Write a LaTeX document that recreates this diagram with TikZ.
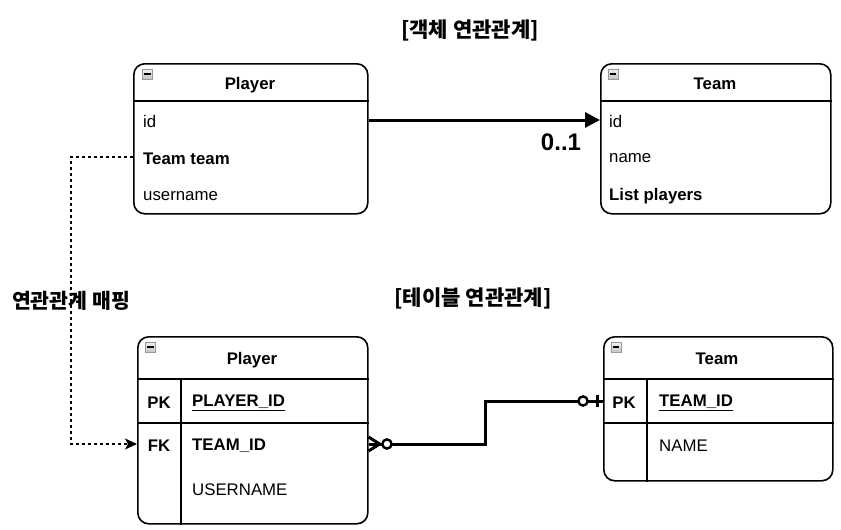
\documentclass[tikz,border=0pt]{standalone}
\usepackage{fontspec}
\setmainfont{Liberation Sans}
\newfontfamily\kr{Noto Sans CJK KR}
\usetikzlibrary{arrows.meta,calc}
\begin{document}
\begin{tikzpicture}[x=1pt,y=-1pt,
  box/.style={draw, line width=1.6pt, rounded corners=11pt, inner sep=0pt, anchor=north west},
  sep/.style={line width=1.6pt},
  hdr/.style={font=\fontsize{16.8}{19}\selectfont\bfseries, inner sep=0pt},
  item/.style={font=\fontsize{16.8}{19}\selectfont, anchor=west, inner sep=0pt},
  bitem/.style={item, font=\fontsize{16.8}{19}\selectfont\bfseries},
  title/.style={font=\kr\fontsize{21}{24}\selectfont\bfseries, inner sep=0pt},
  icon/.style={draw=gray!80, line width=0.8pt, top color=gray!10, bottom color=gray!45, minimum size=10pt, inner sep=0pt, anchor=north west},
  rel/.style={line width=3pt},
]
\useasboundingbox[fill=white] (0,0) rectangle (841,530);

% ---------- titles
\node[title] (t1title) at (470,30) {[객체 연관관계]};
\node[title] (t2title) at (473,298) {[테이블 연관관계]};

% ---------- top Player
\node[box, minimum width=234pt, minimum height=150pt] (op) at (133,63) {};
\draw[sep] ($(op.north west)+(0,38)$) -- ($(op.north east)+(0,38)$);
\node[icon] (opicon) at (142,68.5) {};
\draw[line width=1.3pt] ($(opicon.west)+(2,0)$) -- ($(opicon.east)+(-2,0)$);
\node[hdr] (ophdr) at (250,85) {Player};
\node[item] (opid) at (143,121.5) {id};
\node[bitem] (opteam) at (143,158.5) {Team team};
\node[item] (opuser) at (143,196.5) {username};

% ---------- top Team
\node[box, minimum width=230pt, minimum height=150pt] (ot) at (600,63) {};
\draw[sep] ($(ot.north west)+(0,38)$) -- ($(ot.north east)+(0,38)$);
\node[icon] (oticon) at (607.5,68.5) {};
\draw[line width=1.3pt] ($(oticon.west)+(2,0)$) -- ($(oticon.east)+(-2,0)$);
\node[hdr] (othdr) at (715,83.5) {Team};
\node[item] (otid) at (609,121.5) {id};
\node[item] (otname) at (609,158.5) {name};
\node[bitem] (otlist) at (609,196.5) {List players};

% ---------- object association
\coordinate (oa1) at ($(op.north east)+(0,57)$);
\coordinate (oa2) at ($(ot.north west)+(0,57)$);
\draw[rel, -{Triangle[length=15pt,width=15pt]}] (oa1) -- (oa2);
\node[font=\fontsize{24}{28}\selectfont\bfseries, inner sep=0pt] (mult) at (561,142.5) {0..1};

% ---------- bottom Player table
\node[box, minimum width=230pt, minimum height=187pt] (tp) at (137,336) {};
\draw[sep] ($(tp.north west)+(0,43)$) -- ($(tp.north east)+(0,43)$);
\draw[sep] ($(tp.north west)+(0,87)$) -- ($(tp.north east)+(0,87)$);
\draw[sep] ($(tp.north west)+(44,43)$) -- ($(tp.south west)+(44,0)$);
\node[icon] (tpicon) at (145,341.5) {};
\draw[line width=1.3pt] ($(tpicon.west)+(2,0)$) -- ($(tpicon.east)+(-2,0)$);
\node[hdr] (tphdr) at (252,360) {Player};
\node[hdr] (tppk) at (159,402.5) {PK};
\node[bitem] (tppid) at (192,402.5) {\underline{PLAYER\_ID}};
\node[hdr] (tpfk) at (159,445.5) {FK};
\node[bitem] (tptid) at (192,445.5) {TEAM\_ID};
\node[item] (tpuser) at (192,489.5) {USERNAME};

% ---------- bottom Team table
\node[box, minimum width=229pt, minimum height=144pt] (tt) at (603,336) {};
\draw[sep] ($(tt.north west)+(0,43)$) -- ($(tt.north east)+(0,43)$);
\draw[sep] ($(tt.north west)+(0,87)$) -- ($(tt.north east)+(0,87)$);
\draw[sep] ($(tt.north west)+(44,43)$) -- ($(tt.south west)+(44,0)$);
\node[icon] (tticon) at (610.5,341.5) {};
\draw[line width=1.3pt] ($(tticon.west)+(2,0)$) -- ($(tticon.east)+(-2,0)$);
\node[hdr] (tthdr) at (717,358.5) {Team};
\node[hdr] (ttpk) at (624,402.5) {PK};
\node[bitem] (tttid) at (659,402.5) {\underline{TEAM\_ID}};
\node[item] (ttname) at (659,445.5) {NAME};

% ---------- table relation (zero-or-many to zero-or-one)
\coordinate (ra) at ($(tp.north east)+(0,108)$);
\coordinate (rb) at ($(tt.north west)+(0,65)$);
\coordinate (rc) at (392,444);
\coordinate (rd) at (578,401);
\draw[rel, line join=miter] (rc) -| (485,401) -- (rd);
\draw[rel] ($(ra)+(0,-7)$) -- ($(ra)+(11,0)$) -- ($(ra)+(0,7)$);
\draw[rel] (ra) -- ($(ra)+(15,0)$);
\draw[line width=2.4pt, fill=white] (387,444) circle (4.6pt);
\draw[rel] ($(rb)+(-15,0)$) -- (rb);
\draw[rel] ($(rb)+(-6,-6)$) -- ($(rb)+(-6,6)$);
\draw[line width=2.4pt, fill=white] (583,401) circle (4.6pt);

% ---------- mapping (dashed)
\coordinate (m1) at ($(op.north west)+(0,94)$);
\coordinate (m2) at ($(tp.north west)+(0,108)$);
\draw[line width=1.4pt, dash pattern=on 3pt off 3pt, -{Stealth[length=12pt,width=11pt,inset=3pt]}]
  (m1) -- (71,157) -- (71,444) -- (m2);
\node[font=\kr\fontsize{20.5}{24}\selectfont\bfseries, inner sep=0pt] (maplabel) at (71,301) {연관관계 매핑};
\end{tikzpicture}
\end{document}
